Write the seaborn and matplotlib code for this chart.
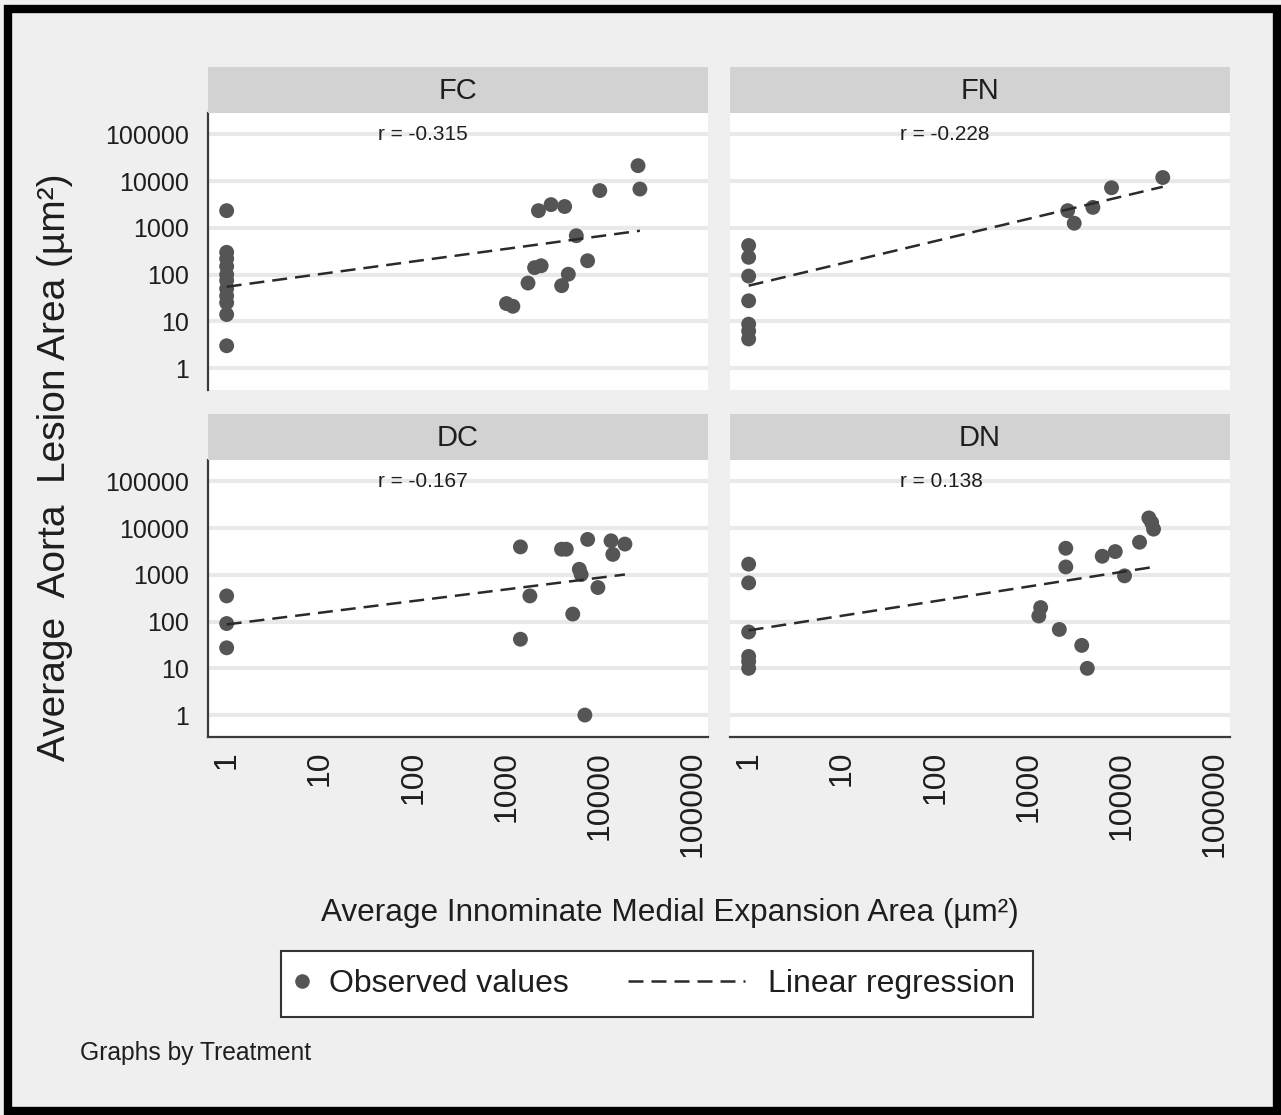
import numpy as np
import pandas as pd
import matplotlib
matplotlib.use("Agg")
import matplotlib.pyplot as plt
import seaborn as sns
from matplotlib import font_manager
from matplotlib.lines import Line2D
from matplotlib.patches import Rectangle
from matplotlib.ticker import FixedLocator, NullLocator
from matplotlib.legend_handler import HandlerLine2D

# ---------------- data ----------------
treatments = ["FC", "FN", "DC", "DN"]

fc_x = [1, 1, 1, 1, 1, 1, 1, 1, 1, 1, 1,
        1000, 1170, 1700, 2000, 2350, 2200, 3000, 4200, 3900, 4600, 5600, 7400, 10000, 25700, 26900]
fc_y = [2340, 300, 220, 150, 100, 75, 50, 35, 25, 14, 3,
        24, 21, 66, 141, 155, 2340, 3150, 2870, 58, 102, 680, 198, 6300, 21500, 6800]

fn_x = [1, 1, 1, 1, 1, 1, 1,
        2630, 3090, 4900, 7760, 27500]
fn_y = [420, 235, 93, 27.5, 8.7, 6.2, 4.2,
        2340, 1260, 2750, 7240, 12000]

dc_x = [1, 1, 1,
        1410, 1410, 1780, 3890, 4370, 5130, 6030, 6310, 6920, 7410, 9550, 13200, 13800, 18600]
dc_y = [355, 91, 27.5,
        3980, 42, 355, 3550, 3550, 145, 1320, 1020, 1, 5750, 537, 5370, 2750, 4570]

dn_x = [1, 1, 1, 1, 1, 1,
        1350, 1290, 2140, 2510, 2510, 3720, 4270, 6170, 8510, 10700, 15500, 19500, 20900, 21900]
dn_y = [1700, 676, 60, 18, 14, 10,
        200, 132, 68, 3720, 1480, 31, 10, 2510, 3160, 955, 5010, 16600, 13200, 9550]

# regression line end points (fitted values)
reg_x = {"FC": [1, 26900], "FN": [1, 27500], "DC": [1, 18600], "DN": [1, 21900]}
reg_y = {"FC": [55, 870], "FN": [58, 7600], "DC": [87, 1020], "DN": [65, 1480]}

r_labels = {"FC": "r = -0.315", "FN": "r = -0.228", "DC": "r = -0.167", "DN": "r = 0.138"}

tick_values = [1, 10, 100, 1000, 10000, 100000]
tick_labels = ["1", "10", "100", "1000", "10000", "100000"]

frames = []
for name, xs, ys in zip(treatments, [fc_x, fn_x, dc_x, dn_x], [fc_y, fn_y, dc_y, dn_y]):
    frames.append(pd.DataFrame({"Treatment": name, "x": xs, "y": ys}))
df = pd.concat(frames, ignore_index=True)

# ---------------- fonts ----------------
names = {f.name for f in font_manager.fontManager.ttflist}
REG = "Liberation Sans" if "Liberation Sans" in names else "DejaVu Sans"

sns.set_style("white")
plt.rcParams["font.family"] = [REG, "DejaVu Sans"]

BG = "#efefef"
W, H = 1281, 1115
DOT = "#555555"
LINE = "#2a2a2a"
DASH = (0, (6, 3.2))

g = sns.FacetGrid(df, col="Treatment", col_wrap=2, col_order=treatments,
                  sharex=True, sharey=True, height=4, aspect=1.4)
g.map_dataframe(sns.scatterplot, x="x", y="y", color=DOT, s=115,
                edgecolor="none", zorder=4)
fig = g.figure
fig.set_size_inches(W / 100, H / 100)
fig.set_dpi(100)
fig.patch.set_facecolor(BG)

# panel positions in pixels: (left, top, right, bottom)
pos = {"FC": (208, 113, 708, 390), "FN": (730, 113, 1230, 390),
       "DC": (208, 460, 708, 737), "DN": (730, 460, 1230, 737)}
strip_h = 46

for name in treatments:
    ax = g.axes_dict[name]
    l, t, r, b = pos[name]
    ax.set_position([l / W, 1 - b / H, (r - l) / W, (b - t) / H])
    ax.set_xscale("log")
    ax.set_yscale("log")
    ax.set_xlim(10 ** -0.2, 10 ** 5.16)
    ax.set_ylim(10 ** -0.47, 10 ** 5.46)
    ax.set_facecolor("white")
    ax.set_title("")
    ax.xaxis.set_major_locator(FixedLocator(tick_values))
    ax.yaxis.set_major_locator(FixedLocator(tick_values))
    ax.xaxis.set_minor_locator(NullLocator())
    ax.yaxis.set_minor_locator(NullLocator())
    ax.set_xticks(tick_values)
    ax.set_yticks(tick_values)
    ax.set_xticklabels(tick_labels, rotation=90, fontsize=23, family=REG)
    ax.set_yticklabels(tick_labels, fontsize=18, family=REG)
    ax.yaxis.grid(True, color="#e9e9e9", lw=3, zorder=0)
    ax.xaxis.grid(False)
    ax.set_axisbelow(True)
    for s in ["top", "right"]:
        ax.spines[s].set_visible(False)
    for s in ["left", "bottom"]:
        ax.spines[s].set_color("#3a3a3a")
        ax.spines[s].set_linewidth(1.6)
    ax.tick_params(axis="both", which="major", direction="out", color="#3a3a3a",
                   width=1.3, labelcolor="#1e1e1e")
    ax.tick_params(axis="y", length=6, pad=8)
    ax.tick_params(axis="x", length=8, pad=2)
    is_top = name in ("FC", "FN")
    is_right = name in ("FN", "DN")
    if is_top:
        ax.spines["bottom"].set_visible(False)
        ax.tick_params(axis="x", length=0, labelbottom=False)
    else:
        ax.tick_params(axis="x", labelbottom=True)
    if is_right:
        ax.spines["left"].set_visible(False)
        ax.tick_params(axis="y", length=0, labelleft=False)
    else:
        ax.tick_params(axis="y", labelleft=True)

    # regression line
    sns.lineplot(x=reg_x[name], y=reg_y[name], ax=ax, color=LINE,
                 linewidth=1.8, linestyle=DASH, estimator=None,
                 zorder=5, legend=False)
    ax.set_xlabel("")
    ax.set_ylabel("")

    # r annotation
    ax.text(10 ** 1.62, 1e5, r_labels[name], ha="left", va="center",
            fontsize=15, family=REG, color="#1e1e1e", zorder=6)

    # strip header
    sax = fig.add_axes([l / W, 1 - t / H, (r - l) / W, strip_h / H])
    sax.set_facecolor("#d2d2d2")
    sax.set_xticks([])
    sax.set_yticks([])
    for s in sax.spines.values():
        s.set_visible(False)
    sax.text(0.5, 0.48, name, ha="center", va="center", fontsize=21,
             family=REG, color="#1e1e1e", transform=sax.transAxes)

# axis titles
fig.text(55 / W, 1 - 467 / H, "Average  Aorta  Lesion Area (\u00b5m\u00b2)",
         rotation=90, ha="center", va="center", fontsize=28, family=REG,
         color="#1e1e1e")
fig.text(670 / W, 1 - 913 / H, "Average Innominate Medial Expansion Area (\u00b5m\u00b2)",
         ha="center", va="center", fontsize=22.7, family=REG, color="#1e1e1e")


# legend with custom handle placement (handle-box units are points)
class MarkerLeft(HandlerLine2D):
    def get_xdata(self, legend, xdescent, ydescent, width, height, fontsize):
        c = -xdescent + 0.125 * width
        return [c - 0.5, c + 0.5], [c]


class DashLong(HandlerLine2D):
    def get_xdata(self, legend, xdescent, ydescent, width, height, fontsize):
        end = -xdescent + width - 14.3
        return [end - 84.2, end], [end]


dot_handle = Line2D([], [], marker="o", linestyle="none", color=DOT,
                    markersize=10.5, markeredgewidth=0)
dash_handle = Line2D([], [], color=LINE, linewidth=1.8, linestyle=DASH)
leg = fig.legend([dot_handle, dash_handle], ["Observed values", "Linear regression"],
                 loc="center", bbox_to_anchor=(657 / W, 1 - 984 / H),
                 ncol=2, frameon=True, fancybox=False, framealpha=1,
                 edgecolor="#333333", facecolor="white",
                 prop={"family": REG, "size": 23}, handlelength=0.85,
                 handletextpad=0.1, columnspacing=5.3, borderpad=0.55,
                 handler_map={dot_handle: MarkerLeft(numpoints=1),
                              dash_handle: DashLong(numpoints=1)})
leg.get_frame().set_linewidth(1.5)
for txt in leg.get_texts():
    txt.set_color("#1e1e1e")

fig.text(80 / W, 1 - 1053 / H, "Graphs by Treatment", ha="left", va="center",
         fontsize=17.7, family=REG, color="#1e1e1e")

# black frame around the image
fig.patches.append(Rectangle((8 / W, 4 / H), (1269 / W), (1102 / H),
                             transform=fig.transFigure, fill=False,
                             edgecolor="black", linewidth=6, zorder=10))

fig.savefig("out.png", dpi=100, facecolor=BG)
